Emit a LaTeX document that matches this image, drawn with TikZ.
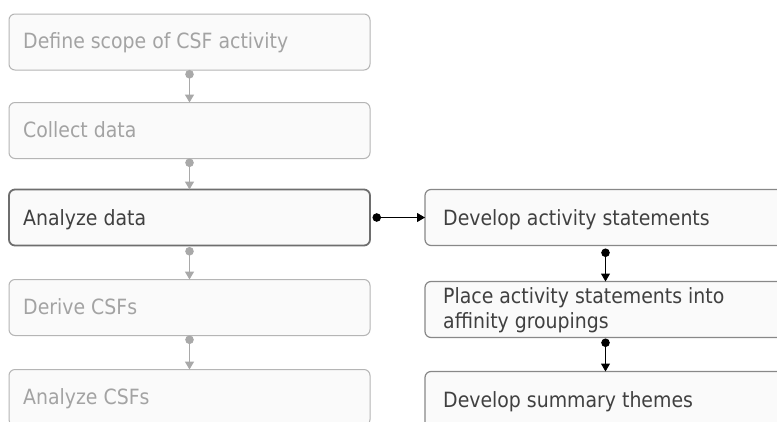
\documentclass[tikz,border=0pt]{standalone}
\usepackage{fontspec}
\setmainfont{DejaVu Sans Condensed}
\usetikzlibrary{arrows.meta}
\definecolor{dimtext}{HTML}{A3A3A3}
\definecolor{dimline}{HTML}{B5B5B5}
\definecolor{dimlink}{HTML}{A9A9A9}
\definecolor{boxfill}{HTML}{FAFAFA}
\definecolor{activetext}{HTML}{404040}
\definecolor{activeline}{HTML}{6E6E6E}
\definecolor{subline}{HTML}{888888}
\begin{document}
\begin{tikzpicture}[x=1pt,y=-1pt,
  font=\fontsize{21}{25.5}\selectfont,
  stage/.style={draw=dimline, line width=1pt, rounded corners=6pt, fill=boxfill,
    minimum width=361pt, minimum height=56pt, inner sep=0pt, outer sep=0pt},
  current/.style={stage, draw=activeline, line width=1.8pt},
  substage/.style={stage, draw=subline, line width=1.2pt},
  dimlabel/.style={text=dimtext, anchor=base west, inner sep=0pt},
  label/.style={text=activetext, anchor=base west, inner sep=0pt, align=left},
  dimflow/.style={draw=dimlink, line width=1.4pt,
    {Circle[length=8.5pt]}-{Triangle[length=8pt,width=9pt]}},
  flow/.style={draw=black, line width=1pt,
    {Circle[length=8.5pt]}-{Triangle[length=8pt,width=9pt]}}]
\useasboundingbox (0,0) rectangle (777,421);
\clip (0,0) rectangle (777,421);
\fill[white] (0,0) rectangle (777,421);

% main sequence of stages
\node[stage]   (s1) at (189.5,42)  {};
\node[stage]   (s2) at (189.5,130.5) {};
\node[current] (s3) at (189.5,217.5) {};
\node[stage]   (s4) at (189.5,307.5) {};
\node[stage]   (s5) at (189.5,397.5) {};

\node[dimlabel] (t1) at (23,48)  {Define scope of CSF activity};
\node[dimlabel] (t2) at (23,137) {Collect data};
\node[label]    (t3) at (23,225) {Analyze data};
\node[dimlabel] (t4) at (23,314) {Derive CSFs};
\node[dimlabel] (t5) at (23,404) {Analyze CSFs};

% sub-steps of the data analysis
\node[substage] (r1) at (605.5,217.5) {};
\node[substage] (r2) at (605.5,309.5) {};
\node[substage] (r3) at (605.5,399.5) {};

\node[label] (u1) at (443,225) {Develop activity statements};
\node[label] (u2) at (443,328.5) {Place activity statements into\\affinity groupings};
\node[label] (u3) at (443,407) {Develop summary themes};

% connectors
\draw[dimflow] (s1.south) -- (s2.north);
\draw[dimflow] (s2.south) -- (s3.north);
\draw[dimflow, shorten <=1.5pt] (s3.south) -- (s4.north);
\draw[dimflow] (s4.south) -- (s5.north);

\draw[flow, shorten <=2.5pt] (s3.east) -- (r1.west);
\draw[flow, shorten <=3pt] (r1.south) -- (r2.north);
\draw[flow, shorten <=1pt] (r2.south) -- (r3.north);
\end{tikzpicture}
\end{document}
